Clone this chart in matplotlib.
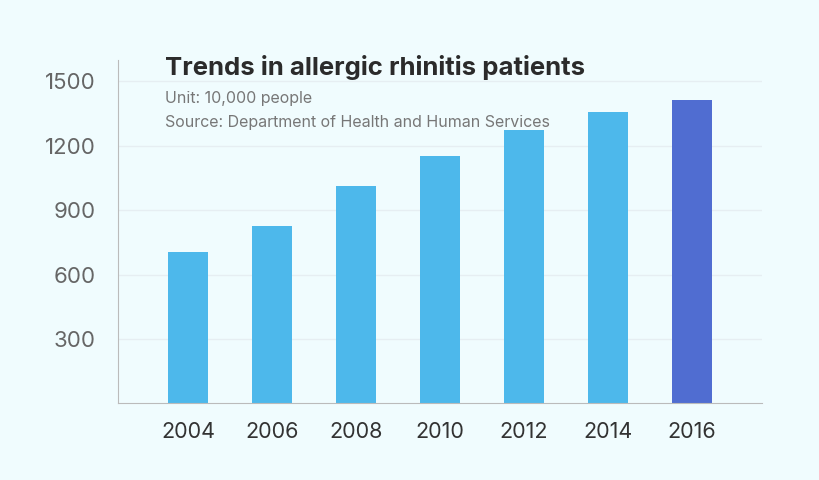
import matplotlib.pyplot as plt

anios = ["2004", "2006", "2008", "2010", "2012", "2014", "2016"]
pacientes = [705, 826, 1012, 1151, 1272, 1356, 1412]
colores = ["#4DB8EB"] * 6 + ["#506DD1"]
ticks_y = [300, 600, 900, 1200, 1500]

plt.rcParams["font.family"] = ["Inter", "DejaVu Sans"]

fig = plt.figure(figsize=(8.2, 4.8), dpi=100, facecolor="#F0FCFE")
ax = fig.add_axes([0.1439, 0.1594, 0.7854, 0.7156])
ax.set_facecolor("#F0FCFE")

x = range(len(anios))
ax.bar(x, pacientes, width=0.476, color=colores, zorder=2)

ax.set_xlim(-0.833, 6.833)
ax.set_ylim(0, 1600)
ax.set_xticks(list(x))
ax.set_xticklabels(anios, fontsize=15.5, color="#333333")
ax.set_yticks(ticks_y)
ax.set_yticklabels([str(t) for t in ticks_y], fontsize=16, color="#666666")
ax.tick_params(axis="both", length=0)
ax.tick_params(axis="x", pad=13)
ax.tick_params(axis="y", pad=16)

ax.grid(axis="y", color="#E6EEF2", linewidth=1, zorder=0)
for lado in ["top", "right"]:
    ax.spines[lado].set_visible(False)
ax.spines["left"].set_color("#BBBBBB")
ax.spines["bottom"].set_color("#BBBBBB")

fig.text(0.201, 0.843, "Trends in allergic rhinitis patients", fontsize=18.5,
         fontweight="bold", color="#2B2B2B", va="baseline")
fig.text(0.201, 0.785, "Unit: 10,000 people", fontsize=11.5, color="#777777", va="baseline")
fig.text(0.201, 0.735, "Source: Department of Health and Human Services", fontsize=11.5,
         color="#777777", va="baseline")

fig.savefig("out.png", dpi=100, facecolor=fig.get_facecolor())
